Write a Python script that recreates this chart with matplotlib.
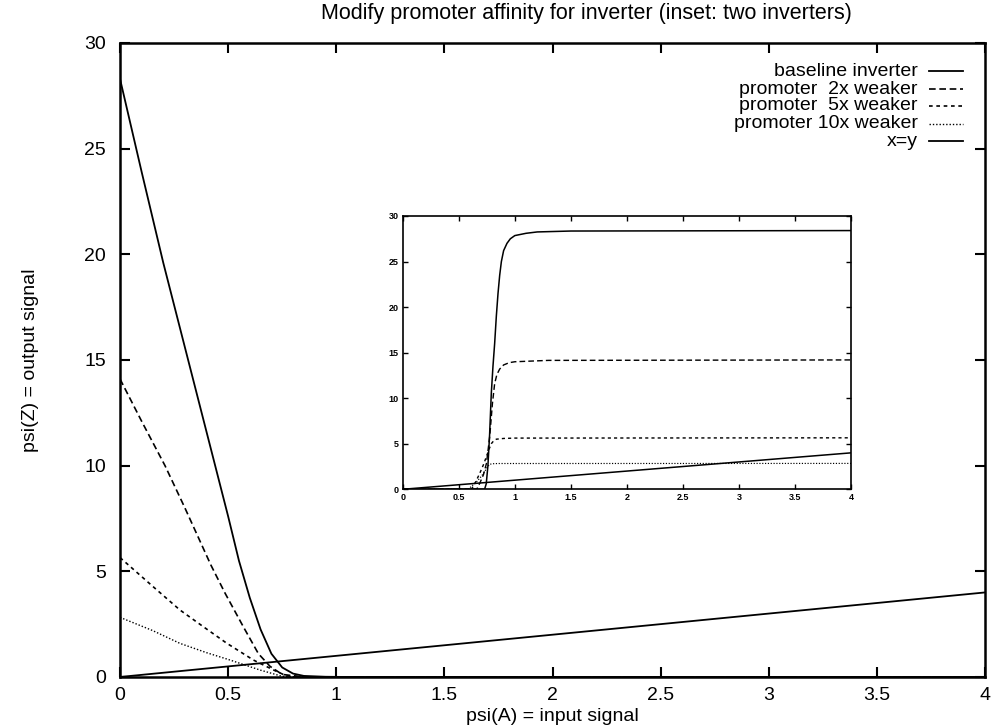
import matplotlib
matplotlib.use("Agg")
import matplotlib.pyplot as plt
from matplotlib.ticker import FormatStrFormatter

plt.rcParams['font.family'] = ['Liberation Sans', 'DejaVu Sans']

# ---- data ----
labels = ["baseline inverter", "promoter  2x weaker", "promoter  5x weaker",
          "promoter 10x weaker", "x=y"]

# main plot: one inverter
base_x = [0, 0.1, 0.2, 0.3, 0.4, 0.5, 0.55, 0.6, 0.65, 0.7, 0.75, 0.8, 0.85, 0.95, 1.05, 4.0]
base_y = [28.3, 23.9, 19.6, 15.6, 11.6, 7.6, 5.5, 3.75, 2.25, 1.1, 0.45, 0.16, 0.05, 0.01, 0.0, 0.0]
w2_x = [0, 0.1, 0.208, 0.3, 0.42, 0.486, 0.57, 0.64, 0.694, 0.75, 0.85, 4.0]
w2_y = [14.1, 12.1, 10.0, 8.0, 5.3, 3.96, 2.38, 1.1, 0.5, 0.12, 0.0, 0.0]
w5_x = [0, 0.15, 0.277, 0.385, 0.493, 0.617, 0.71, 0.77, 0.85, 4.0]
w5_y = [5.65, 4.3, 3.17, 2.38, 1.6, 0.8, 0.33, 0.05, 0.0, 0.0]
w10_x = [0, 0.15, 0.277, 0.4, 0.509, 0.647, 0.75, 0.85, 4.0]
w10_y = [2.82, 2.2, 1.59, 1.15, 0.8, 0.33, 0.03, 0.0, 0.0]
xy_x = [0, 4]
xy_y = [0, 4]

# inset: two inverters
ibase_x = [0, 0.73, 0.745, 0.76, 0.775, 0.79, 0.805, 0.82, 0.835, 0.85, 0.865, 0.88, 0.9, 0.93, 0.96, 1.0, 1.1, 1.2, 1.5, 4.0]
ibase_y = [0, 0, 0.6, 2.6, 6.0, 10.5, 13.5, 16.0, 19.0, 21.5, 23.5, 25.0, 26.2, 27.0, 27.5, 27.85, 28.1, 28.25, 28.35, 28.4]
iw2_x = [0, 0.66, 0.687, 0.72, 0.747, 0.776, 0.80, 0.82, 0.84, 0.865, 0.9, 0.95, 1.0, 1.3, 4.0]
iw2_y = [0, 0, 0.66, 1.6, 2.85, 5.8, 9.4, 11.6, 12.6, 13.2, 13.65, 13.9, 14.0, 14.15, 14.2]
iw5_x = [0, 0.613, 0.65, 0.687, 0.72, 0.747, 0.77, 0.79, 0.81, 0.835, 0.9, 1.0, 4.0]
iw5_y = [0, 0, 0.8, 1.75, 2.7, 3.6, 4.4, 5.0, 5.3, 5.5, 5.58, 5.62, 5.65]
iw10_x = [0, 0.583, 0.62, 0.66, 0.7, 0.73, 0.755, 0.776, 0.81, 0.85, 4.0]
iw10_y = [0, 0, 0.4, 0.84, 1.4, 1.93, 2.45, 2.75, 2.81, 2.83, 2.84]

xticks = [0, 0.5, 1, 1.5, 2, 2.5, 3, 3.5, 4]
yticks = [0, 5, 10, 15, 20, 25, 30]

styles = [
    dict(ls='-', lw=1.3),
    dict(ls=(0, (4.0, 2.2)), lw=1.2),
    dict(ls=(0, (2.2, 2.2)), lw=1.2),
    dict(ls=(0, (1.0, 1.4)), lw=1.0),
    dict(ls='-', lw=1.3),
]

fig = plt.figure(figsize=(9.91, 7.28), dpi=100)
ax = fig.add_axes([0.1211, 0.0701, 0.8729, 0.8709])

main_series = [(base_x, base_y), (w2_x, w2_y), (w5_x, w5_y), (w10_x, w10_y), (xy_x, xy_y)]
for (xs, ys), st in zip(main_series, styles):
    ax.plot(xs, ys, color='black', solid_capstyle='butt', solid_joinstyle='round', **st)

ax.set_xlim(0, 4)
ax.set_ylim(0, 30)
ax.set_xticks(xticks)
ax.set_yticks(yticks)
ax.xaxis.set_major_formatter(FormatStrFormatter('%g'))
ax.yaxis.set_major_formatter(FormatStrFormatter('%g'))
ax.tick_params(direction='in', length=7, width=1.5, labelsize=14,
               top=True, right=True)
ax.tick_params(axis='x', pad=7)
ax.tick_params(axis='y', pad=10)
for sp in ax.spines.values():
    sp.set_linewidth(1.8)

ax.set_xlabel("psi(A) = input signal", fontsize=14, labelpad=3)
ax.set_ylabel("psi(Z) = output signal", fontsize=14, labelpad=33)
fig.text(0.592, 0.982, "Modify promoter affinity for inverter (inset: two inverters)",
         ha='center', va='center', fontsize=15.5)

# legend drawn manually (right-aligned text, sample to the right)
row_px = [71, 89, 106, 124, 141]
for lab, st, yp in zip(labels, styles, row_px):
    yy = 1 - yp / 728.0
    fig.text(0.926, yy, lab, ha='right', va='center', fontsize=14)
    fig.add_artist(plt.Line2D([0.937, 0.972], [yy, yy], color='black',
                              transform=fig.transFigure, **st))

# inset
axi = fig.add_axes([0.4064, 0.3279, 0.4524, 0.3754])
inset_series = [(ibase_x, ibase_y), (iw2_x, iw2_y), (iw5_x, iw5_y), (iw10_x, iw10_y), (xy_x, xy_y)]
for (xs, ys), st in zip(inset_series, styles):
    s = dict(st)
    s['lw'] = st['lw'] * 0.85
    axi.plot(xs, ys, color='black', solid_joinstyle='round', **s)
axi.set_xlim(0, 4)
axi.set_ylim(0, 30)
axi.set_xticks(xticks)
axi.set_yticks(yticks)
axi.xaxis.set_major_formatter(FormatStrFormatter('%g'))
axi.yaxis.set_major_formatter(FormatStrFormatter('%g'))
axi.tick_params(direction='in', length=3.5, width=1.0, labelsize=6.5,
                top=True, right=True, pad=3)
for t in axi.get_xticklabels() + axi.get_yticklabels():
    t.set_fontweight('bold')
for sp in axi.spines.values():
    sp.set_linewidth(1.2)

fig.savefig("out.png", dpi=100)
